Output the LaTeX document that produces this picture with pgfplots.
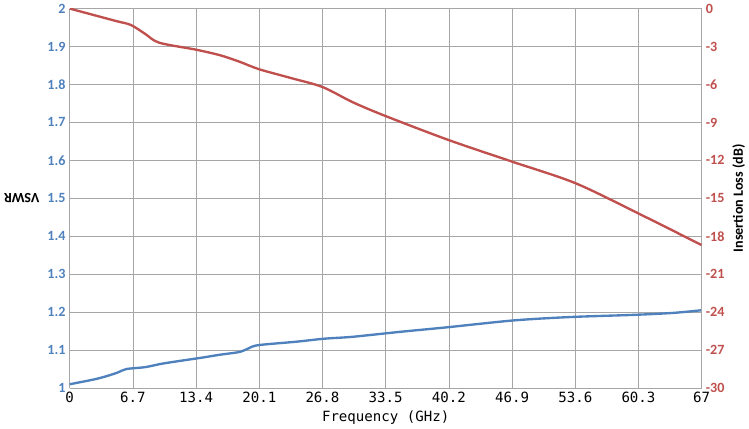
\documentclass[border=0pt]{standalone}
\usepackage{pgfplots}
\pgfplotsset{compat=1.18}
\usepackage{fontspec}
\setmainfont{Carlito}
\newfontfamily\monof{DejaVu Sans Mono}
\definecolor{cb}{HTML}{4F81BD}
\definecolor{cr}{HTML}{C0504D}
\begin{document}
\begin{tikzpicture}
\begin{axis}[at={(0,0)},width=538pt,height=323pt,scale only axis,
 xmin=0,xmax=67,ymin=1,ymax=2,
 xtick={0,6.7,13.4,20.1,26.8,33.5,40.2,46.9,53.6,60.3,67},
 xticklabels={0,6.7,13.4,20.1,26.8,33.5,40.2,46.9,53.6,60.3,67},
 ytick={1,1.1,...,2.01},
 yticklabel style={/pgf/number format/fixed,/pgf/number format/precision=1,font=\bfseries\large,text=cb},
 xticklabel style={font=\monof\large},
 /pgf/number format/assume math mode=true,
 grid=major,major grid style={gray!70},
 axis line style={gray!70},tick style={draw=none},
 axis y line*=left,axis x line*=bottom,
 xlabel={\monof\large Frequency (GHz)},ylabel={\bfseries\large VSWR},
 ylabel style={rotate=-90,rotate=180},
 ]
\addplot[cb,line width=2pt,smooth] coordinates {(0,1.01)(3,1.025)(5,1.04)(6,1.05)(8,1.055)(10,1.065)(14,1.08)(16,1.088)(18,1.095)(19,1.105)(20,1.113)(24,1.122)(27,1.13)(30,1.135)(35,1.148)(40,1.16)(47,1.178)(53,1.187)(60,1.193)(64,1.198)(67,1.205)};
\end{axis}
\begin{axis}[at={(0,0)},width=538pt,height=323pt,scale only axis,
 xmin=0,xmax=67,ymin=-30,ymax=0,ytick={-30,-27,...,0},
 axis y line*=right,axis x line=none,tick style={draw=none},
 axis line style={gray!70},
 yticklabel style={font=\bfseries\large,text=cr},
 /pgf/number format/assume math mode=true,
 ylabel={\bfseries\large Insertion Loss (dB)},
 ]
\addplot[cr,line width=2pt,smooth] coordinates {(0,0)(3,-0.6)(5,-1.0)(6.5,-1.3)(8,-2.0)(9.5,-2.7)(13.4,-3.25)(16,-3.7)(18,-4.2)(20.1,-4.8)(23.5,-5.5)(26.8,-6.2)(30,-7.4)(33.5,-8.5)(40.2,-10.4)(46.9,-12.1)(53.6,-13.8)(60.3,-16.2)(67,-18.7)};
\end{axis}
\end{tikzpicture}
\end{document}
